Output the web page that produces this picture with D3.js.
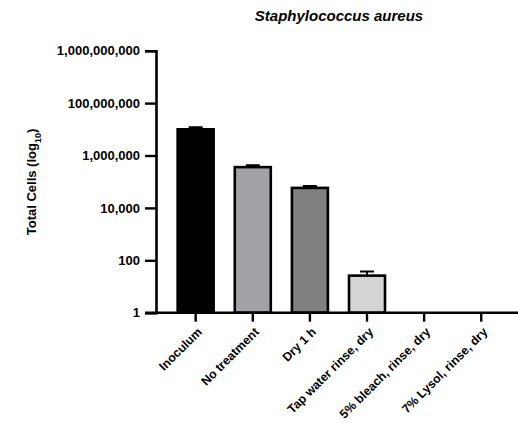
<!DOCTYPE html>
<html>
<head>
<meta charset="utf-8">
<script src="https://cdn.jsdelivr.net/npm/d3@7"></script>
<style>
  body { margin: 0; background: #fff; }
  text { font-family: "Liberation Sans", Arial, sans-serif; font-weight: bold; }
</style>
</head>
<body>
<script>
// data
var categories = ['Inoculum', 'No treatment', 'Dry 1 h', 'Tap water rinse, dry', '5% bleach, rinse, dry', '7% Lysol, rinse, dry'];
var cellCounts = [1.0e7, 3.6e5, 5.8e4, 26, 1, 1];
var errorTops = [1.2e7, 4.2e5, 6.8e4, 37, 1, 1];
var barColors = ['#000000', '#a3a3a7', '#808080', '#d4d4d4', '#ffffff', '#ffffff'];
var tickValues = [1, 1e2, 1e4, 1e6, 1e8, 1e10];
var tickLabels = ['1', '100', '10,000', '1,000,000', '100,000,000', '1,000,000,000'];

var width = 518, height = 423;

var svg = d3.select('body')
	.append('svg')
	.attr('width', width)
	.attr('height', height);

var y = d3.scaleLog()
	.domain([1, 1e10])
	.range([312.7, 50.7]);

var x = d3.scaleBand()
	.domain(categories)
	.range([167.1, 509.8])
	.padding(0);

var barW = 36;

// bars (skip the ones sitting on the baseline)
var bars = categories.map(function(c, i){ return {cat: c, v: cellCounts[i], e: errorTops[i], col: barColors[i]}; })
	.filter(function(d){ return d.v > 1; });

// error bars (drawn first so the bar stroke covers the lower whisker)
svg.selectAll('.err')
	.data(bars)
	.enter().append('path')
	.attr('d', function(d){
		var cx = x(d.cat) + x.bandwidth()/2;
		return 'M' + cx + ',' + y(d.v) + 'V' + y(d.e) + 'M' + (cx - 7) + ',' + y(d.e) + 'H' + (cx + 7);
	})
	.attr('stroke', '#000')
	.attr('stroke-width', 2)
	.attr('fill', 'none');

svg.selectAll('.bar')
	.data(bars)
	.enter().append('rect')
	.attr('x', function(d){ return x(d.cat) + (x.bandwidth() - barW)/2; })
	.attr('y', function(d){ return y(d.v); })
	.attr('width', barW)
	.attr('height', function(d){ return y(1) - y(d.v); })
	.attr('fill', function(d){ return d.col; })
	.attr('stroke', '#000')
	.attr('stroke-width', 2.6);

// y axis
var yAxis = svg.append('g')
	.attr('transform', 'translate(156,0)')
	.call(d3.axisLeft(y)
		.tickValues(tickValues)
		.tickFormat(function(d, i){ return tickLabels[i]; })
		.tickSize(11)
		.tickPadding(5));
yAxis.select('.domain').attr('stroke-width', 2.6);
yAxis.selectAll('.tick line').attr('stroke-width', 2.4);
yAxis.selectAll('.tick text').style('font-size', '13px').attr('fill', '#000');

// x axis
var xAxis = svg.append('g')
	.attr('transform', 'translate(0,' + y(1) + ')')
	.call(d3.axisBottom(x).tickSize(9).tickSizeOuter(0));
xAxis.select('.domain').attr('d', 'M145,0H518').attr('stroke-width', 2.6);
xAxis.selectAll('.tick line').attr('stroke-width', 2.4);
xAxis.selectAll('.tick text')
	.style('font-size', '12.3px')
	.attr('fill', '#000')
	.attr('text-anchor', 'end')
	.attr('x', 0)
	.attr('y', 0)
	.attr('dy', 0)
	.attr('transform', 'translate(7,20) rotate(-45)');

// axis title
svg.append('text')
	.attr('transform', 'translate(36,182) rotate(-90)')
	.attr('text-anchor', 'middle')
	.style('font-size', '13px')
	.text('Total Cells (log')
	.append('tspan')
	.attr('baseline-shift', 'sub')
	.style('font-size', '9px')
	.text('10')
	.select(function(){ return this.parentNode; })
	.append('tspan')
	.text(')');

// title
svg.append('text')
	.attr('x', 339)
	.attr('y', 21)
	.attr('text-anchor', 'middle')
	.style('font-size', '15px')
	.style('font-style', 'italic')
	.text('Staphylococcus aureus');
</script>
</body>
</html>
